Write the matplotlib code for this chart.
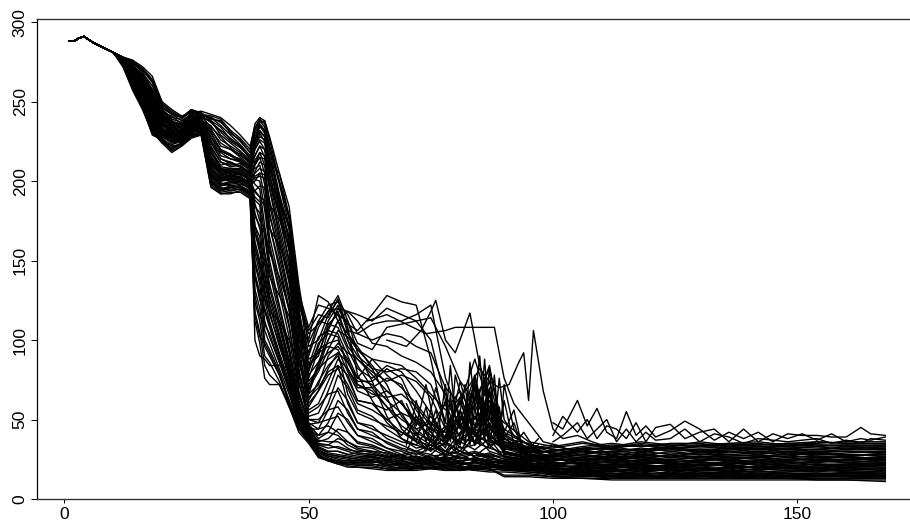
#!/usr/bin/env python3
import matplotlib
matplotlib.use('Agg')
import matplotlib.pyplot as plt

plt.rcParams['font.family'] = ['Liberation Sans', 'DejaVu Sans']

# all the curves run together up to x = 10
start_x = [1, 2, 3, 4, 5, 6, 8, 10]
start_y = [288, 288, 290, 291, 289, 287, 284, 281]

head_x = [12, 14, 16, 18, 20, 22, 24, 26, 28, 30, 32, 34, 36, 38, 39, 40]
mid_x = [41, 42, 44, 46, 48, 50, 52, 54, 56, 58, 60, 63, 66, 69, 72, 75, 78, 81, 84, 87, 90, 95]
tail_x = [100, 106, 112, 118, 124, 130, 136, 142, 148, 154, 160, 168]

head_vals = [
    [278, 276, 272, 266, 250, 245, 241, 243, 244, 242, 240, 235, 229, 222, 234, 238],
    [278, 275, 270, 263, 248, 243, 240, 245, 242, 241, 239, 232, 227, 220, 236, 240],
    [277, 275, 268, 260, 246, 242, 238, 242, 243, 239, 238, 230, 226, 218, 230, 236],
    [278, 274, 269, 257, 245, 240, 239, 244, 241, 240, 235, 229, 223, 216, 228, 235],
    [277, 273, 266, 256, 243, 241, 236, 241, 241, 237, 232, 227, 222, 214, 226, 232],
    [277, 272, 267, 253, 244, 238, 235, 240, 240, 238, 229, 224, 219, 213, 222, 230],
    [277, 273, 264, 252, 241, 237, 236, 241, 238, 235, 226, 222, 218, 212, 220, 225],
    [276, 271, 265, 250, 242, 236, 233, 239, 239, 233, 222, 220, 215, 210, 216, 222],
    [276, 270, 262, 251, 239, 234, 232, 238, 237, 231, 219, 216, 214, 209, 213, 218],
    [276, 271, 261, 248, 240, 235, 231, 236, 238, 228, 216, 214, 212, 208, 210, 215],
    [276, 269, 263, 246, 237, 233, 232, 238, 236, 222, 212, 210, 211, 207, 208, 210],
    [275, 270, 258, 247, 238, 231, 230, 235, 237, 216, 207, 208, 207, 206, 203, 205],
    [276, 267, 260, 244, 235, 232, 228, 237, 235, 212, 206, 207, 208, 205, 201, 200],
    [275, 268, 256, 245, 236, 229, 229, 233, 236, 210, 204, 205, 206, 203, 198, 195],
    [275, 266, 257, 242, 233, 230, 227, 235, 234, 208, 203, 206, 204, 202, 193, 190],
    [275, 267, 254, 243, 234, 227, 228, 232, 235, 206, 202, 204, 205, 201, 188, 185],
    [274, 264, 255, 240, 231, 228, 226, 234, 233, 205, 201, 203, 202, 200, 184, 180],
    [275, 265, 252, 241, 232, 226, 227, 231, 234, 203, 200, 201, 203, 198, 178, 172],
    [274, 262, 253, 238, 229, 227, 225, 233, 232, 202, 198, 200, 200, 197, 172, 165],
    [274, 263, 250, 239, 230, 224, 226, 230, 233, 201, 197, 198, 199, 196, 168, 158],
    [275, 268, 258, 246, 236, 230, 228, 236, 237, 214, 205, 203, 202, 199, 162, 150],
    [276, 270, 262, 250, 240, 234, 232, 239, 239, 220, 208, 205, 201, 198, 155, 142],
    [274, 261, 249, 236, 228, 225, 224, 229, 231, 200, 195, 196, 197, 194, 148, 135],
    [273, 260, 247, 235, 227, 222, 223, 228, 232, 199, 194, 195, 196, 192, 140, 128],
    [277, 271, 263, 251, 241, 236, 234, 240, 240, 226, 214, 211, 209, 204, 132, 120],
    [276, 268, 257, 245, 235, 231, 229, 235, 236, 218, 208, 207, 205, 201, 124, 112],
    [272, 258, 246, 233, 226, 220, 223, 228, 230, 198, 193, 194, 195, 191, 118, 105],
    [272, 257, 245, 230, 225, 219, 222, 227, 229, 197, 192, 193, 193, 189, 112, 98],
    [275, 266, 256, 243, 233, 228, 228, 235, 236, 224, 218, 214, 213, 209, 100, 90],
    [276, 269, 261, 249, 238, 233, 230, 238, 238, 232, 224, 220, 217, 211, 142, 130],
    [277, 272, 265, 254, 243, 238, 235, 241, 241, 237, 231, 225, 221, 215, 172, 160],
    [275, 264, 254, 240, 231, 226, 226, 233, 234, 207, 203, 201, 202, 198, 186, 175],
    [274, 260, 249, 234, 226, 223, 225, 231, 232, 204, 199, 197, 198, 196, 194, 190],
    [275, 265, 255, 242, 232, 229, 229, 235, 235, 209, 202, 200, 201, 197, 200, 205],
    [276, 268, 259, 247, 236, 232, 231, 237, 237, 213, 207, 204, 204, 202, 212, 215],
    [277, 272, 266, 255, 244, 237, 236, 242, 240, 224, 214, 212, 209, 206, 222, 228],
    [278, 275, 271, 264, 249, 244, 240, 245, 243, 238, 234, 226, 222, 214, 232, 237],
    [277, 270, 264, 252, 240, 235, 233, 238, 236, 218, 209, 208, 208, 204, 220, 226],
    [275, 266, 252, 239, 229, 226, 224, 231, 231, 204, 197, 199, 200, 198, 210, 218],
    [274, 261, 248, 232, 224, 221, 224, 229, 230, 201, 194, 196, 197, 193, 206, 212],
    [276, 269, 260, 248, 238, 232, 231, 237, 237, 221, 212, 209, 210, 205, 216, 222],
    [275, 264, 251, 237, 230, 227, 225, 233, 233, 210, 205, 203, 206, 202, 205, 208],
    [277, 273, 267, 258, 245, 239, 237, 243, 241, 234, 228, 221, 216, 212, 226, 234],
    [276, 267, 258, 244, 233, 230, 229, 234, 235, 215, 206, 206, 207, 203, 202, 203],
    [274, 262, 247, 233, 225, 222, 223, 230, 230, 200, 196, 194, 195, 192, 194, 197],
    [278, 276, 270, 262, 247, 242, 240, 244, 242, 240, 237, 231, 225, 218, 233, 239],
    [277, 271, 265, 253, 242, 237, 234, 240, 239, 230, 220, 217, 213, 208, 224, 231],
    [275, 265, 253, 239, 231, 228, 227, 232, 233, 207, 201, 203, 203, 199, 190, 187],
    [276, 268, 259, 246, 237, 231, 230, 236, 237, 219, 210, 212, 209, 206, 180, 170],
    [273, 262, 246, 231, 224, 218, 222, 228, 229, 196, 192, 192, 194, 190, 160, 145],
    [277, 270, 263, 251, 241, 235, 234, 239, 239, 228, 219, 216, 212, 208, 168, 155],
    [275, 264, 250, 236, 228, 225, 226, 232, 231, 203, 198, 199, 199, 195, 140, 125],
    [276, 266, 255, 241, 232, 229, 228, 234, 234, 211, 204, 202, 205, 200, 128, 115],
    [274, 259, 247, 229, 226, 220, 224, 229, 231, 199, 195, 197, 196, 193, 116, 102],
    [275, 263, 251, 235, 228, 224, 225, 231, 232, 205, 200, 202, 200, 197, 150, 138],
    [276, 267, 256, 242, 234, 228, 227, 234, 235, 212, 205, 206, 204, 201, 158, 148],
]

mid_vals = [
    [234, 222, 200, 178, 130, 88, 92, 108, 118, 100, 84, 70, 58, 46, 40, 52, 38, 64, 42, 34, 38, 30],
    [238, 228, 205, 184, 135, 96, 100, 116, 125, 108, 78, 62, 48, 40, 52, 36, 46, 34, 70, 40, 33, 29],
    [232, 220, 192, 170, 120, 84, 90, 110, 116, 112, 92, 74, 52, 38, 34, 46, 60, 38, 36, 58, 30, 27],
    [230, 215, 188, 162, 118, 78, 86, 100, 112, 104, 96, 82, 64, 44, 36, 30, 40, 55, 34, 42, 29, 26],
    [228, 210, 182, 158, 110, 70, 80, 94, 106, 102, 94, 84, 72, 52, 42, 36, 34, 48, 78, 38, 31, 32],
    [225, 205, 178, 150, 102, 66, 72, 90, 98, 92, 88, 78, 68, 60, 48, 40, 36, 30, 44, 66, 34, 27],
    [220, 200, 172, 146, 96, 60, 68, 82, 92, 86, 76, 72, 62, 54, 50, 44, 38, 52, 36, 32, 41, 31],
    [215, 195, 165, 138, 90, 56, 60, 74, 88, 82, 72, 68, 58, 50, 44, 48, 42, 35, 60, 36, 33, 28],
    [210, 185, 158, 130, 82, 52, 54, 68, 84, 78, 62, 60, 50, 42, 38, 32, 44, 62, 34, 48, 30, 25],
    [205, 180, 152, 125, 78, 50, 48, 60, 78, 70, 56, 52, 44, 38, 32, 34, 30, 28, 40, 30, 27, 25],
    [198, 172, 145, 118, 74, 48, 44, 56, 70, 62, 48, 46, 38, 34, 30, 28, 36, 30, 27, 34, 26, 24],
    [190, 165, 138, 110, 68, 47, 40, 48, 62, 56, 44, 42, 35, 31, 28, 32, 27, 33, 26, 28, 25, 24],
    [182, 158, 130, 102, 66, 46, 38, 42, 54, 50, 40, 38, 32, 30, 26, 24, 30, 25, 29, 26, 24, 23],
    [172, 150, 122, 96, 62, 45, 36, 38, 44, 42, 36, 34, 30, 27, 29, 25, 25, 28, 24, 27, 23, 22],
    [165, 142, 116, 92, 60, 44, 35, 34, 38, 36, 33, 32, 28, 26, 24, 28, 24, 26, 25, 23, 24, 22],
    [155, 135, 112, 88, 58, 43, 34, 32, 33, 31, 30, 30, 27, 25, 27, 24, 26, 23, 22, 24, 22, 21],
    [148, 128, 108, 84, 56, 42, 33, 30, 30, 28, 29, 28, 26, 28, 23, 26, 23, 24, 26, 22, 21, 21],
    [140, 122, 102, 80, 52, 41, 32, 29, 28, 27, 26, 27, 24, 23, 25, 22, 24, 22, 23, 21, 23, 20],
    [132, 118, 96, 78, 52, 40, 31, 28, 27, 26, 25, 26, 25, 22, 22, 24, 21, 23, 20, 23, 20, 20],
    [125, 112, 92, 74, 50, 39, 30, 27, 26, 25, 24, 25, 23, 24, 21, 22, 23, 21, 24, 20, 21, 19],
    [118, 108, 88, 70, 48, 38, 29, 27, 25, 24, 24, 24, 22, 21, 23, 21, 22, 20, 21, 22, 19, 19],
    [112, 102, 86, 68, 48, 38, 29, 26, 24, 24, 23, 23, 24, 20, 21, 23, 20, 21, 19, 20, 20, 18],
    [106, 98, 82, 66, 46, 37, 28, 25, 24, 23, 23, 24, 21, 22, 20, 20, 21, 19, 20, 19, 18, 18],
    [100, 94, 80, 62, 44, 36, 27, 25, 23, 23, 22, 22, 21, 19, 20, 21, 19, 20, 18, 21, 18, 17],
    [96, 90, 78, 60, 44, 36, 27, 24, 23, 22, 22, 22, 20, 20, 19, 20, 20, 18, 19, 18, 19, 17],
    [90, 86, 74, 58, 42, 35, 26, 24, 22, 22, 21, 21, 19, 19, 20, 19, 18, 19, 18, 17, 17, 16],
    [84, 78, 72, 60, 44, 39, 27, 24, 23, 21, 20, 20, 19, 18, 19, 20, 18, 18, 20, 19, 15, 15],
    [76, 72, 72, 58, 46, 40, 28, 24, 22, 20, 20, 19, 18, 18, 18, 19, 19, 18, 19, 19, 14, 14],
    [88, 84, 84, 82, 76, 72, 82, 100, 112, 118, 116, 112, 120, 116, 112, 100, 62, 46, 40, 36, 34, 32],
    [126, 118, 112, 100, 86, 66, 84, 106, 120, 110, 106, 116, 128, 124, 122, 88, 44, 36, 44, 40, 33, 30],
    [155, 140, 128, 115, 92, 82, 96, 112, 122, 106, 104, 110, 112, 112, 116, 122, 76, 52, 41, 46, 36, 33],
    [170, 155, 140, 120, 100, 90, 108, 118, 128, 112, 98, 94, 108, 110, 112, 114, 96, 74, 62, 82, 42, 34],
    [188, 170, 160, 142, 112, 98, 112, 122, 124, 116, 104, 100, 104, 102, 96, 92, 70, 60, 88, 58, 48, 36],
    [204, 185, 176, 160, 122, 104, 110, 118, 120, 118, 112, 98, 96, 90, 86, 80, 66, 44, 70, 50, 40, 30],
    [214, 198, 190, 170, 126, 106, 116, 114, 126, 104, 94, 88, 86, 84, 76, 66, 56, 68, 50, 74, 38, 35],
    [226, 212, 205, 178, 130, 108, 122, 120, 116, 100, 90, 82, 80, 82, 80, 72, 48, 40, 64, 44, 36, 28],
    [238, 226, 200, 176, 124, 100, 128, 124, 112, 96, 88, 80, 74, 78, 74, 64, 44, 60, 46, 68, 36, 30],
    [224, 208, 186, 165, 116, 92, 112, 110, 108, 94, 82, 76, 84, 80, 68, 54, 38, 50, 72, 46, 35, 27],
    [216, 200, 178, 150, 108, 84, 102, 106, 104, 90, 76, 88, 78, 70, 60, 48, 36, 46, 58, 84, 33, 29],
    [210, 196, 168, 142, 96, 76, 94, 98, 100, 86, 74, 74, 82, 76, 56, 42, 32, 74, 40, 52, 30, 26],
    [220, 204, 180, 156, 112, 80, 98, 104, 102, 82, 70, 70, 76, 72, 52, 44, 42, 34, 76, 38, 38, 28],
    [206, 188, 162, 136, 90, 68, 86, 92, 96, 88, 72, 66, 64, 66, 58, 46, 34, 56, 35, 62, 32, 27],
    [232, 216, 190, 164, 116, 84, 92, 96, 94, 80, 68, 64, 68, 60, 50, 38, 30, 42, 52, 32, 29, 25],
    [202, 178, 156, 128, 86, 62, 74, 84, 90, 76, 62, 60, 56, 62, 44, 36, 28, 38, 44, 56, 28, 26],
    [196, 172, 148, 120, 80, 58, 68, 78, 82, 72, 60, 56, 50, 54, 40, 34, 44, 32, 34, 66, 27, 24],
    [236, 222, 198, 172, 118, 74, 82, 88, 92, 66, 54, 50, 46, 42, 36, 34, 30, 36, 31, 38, 26, 25],
    [228, 212, 184, 158, 106, 64, 70, 80, 84, 60, 48, 44, 40, 36, 34, 31, 35, 28, 30, 27, 27, 23],
    [186, 160, 134, 108, 72, 54, 58, 66, 68, 54, 44, 40, 36, 32, 30, 34, 28, 30, 27, 29, 25, 23],
    [168, 146, 120, 94, 64, 50, 50, 56, 58, 48, 40, 36, 32, 28, 30, 26, 25, 27, 29, 25, 24, 22],
    [142, 126, 104, 82, 56, 44, 44, 46, 42, 36, 32, 30, 29, 26, 27, 25, 26, 24, 25, 23, 23, 21],
    [150, 132, 110, 86, 58, 47, 48, 50, 52, 42, 35, 33, 30, 27, 24, 27, 28, 26, 24, 25, 24, 22],
    [120, 110, 90, 72, 50, 40, 34, 34, 32, 30, 28, 27, 25, 24, 22, 25, 24, 22, 23, 24, 22, 20],
    [110, 104, 86, 70, 50, 39, 32, 30, 30, 28, 27, 26, 23, 22, 24, 22, 22, 23, 21, 22, 20, 19],
    [98, 92, 78, 62, 46, 37, 30, 28, 27, 26, 25, 24, 22, 21, 20, 23, 21, 20, 21, 20, 19, 18],
    [130, 116, 98, 76, 54, 42, 37, 36, 36, 32, 29, 28, 27, 25, 26, 23, 25, 22, 23, 22, 21, 20],
    [136, 122, 100, 78, 54, 43, 40, 42, 40, 34, 31, 29, 26, 24, 26, 24, 27, 23, 26, 24, 22, 21],
]

tail_vals = [
    [33, 36, 32, 35, 33, 36, 34, 35, 33, 36, 35, 35],
    [30, 33, 35, 33, 34, 33, 35, 34, 35, 34, 33, 34],
    [31, 31, 33, 34, 31, 34, 32, 33, 34, 33, 34, 33],
    [28, 32, 31, 31, 33, 32, 33, 32, 33, 32, 32, 33],
    [34, 29, 30, 32, 30, 31, 32, 31, 32, 33, 31, 32],
    [27, 30, 33, 30, 31, 30, 31, 32, 31, 31, 32, 31],
    [29, 28, 30, 29, 32, 31, 29, 30, 31, 30, 30, 30],
    [26, 31, 27, 30, 28, 29, 30, 29, 30, 29, 30, 29],
    [28, 27, 28, 28, 29, 28, 28, 29, 28, 29, 28, 28],
    [25, 28, 26, 27, 27, 28, 27, 27, 28, 28, 28, 27],
    [27, 25, 27, 26, 27, 26, 27, 28, 26, 27, 26, 26],
    [24, 26, 25, 26, 25, 26, 25, 26, 27, 26, 26, 25],
    [25, 24, 25, 24, 25, 24, 26, 25, 25, 25, 25, 24],
    [22, 23, 24, 24, 23, 25, 24, 24, 24, 24, 23, 24],
    [23, 22, 23, 22, 24, 23, 23, 24, 23, 23, 24, 23],
    [21, 23, 21, 23, 22, 22, 22, 23, 22, 22, 22, 22],
    [20, 21, 22, 21, 21, 22, 21, 22, 21, 22, 21, 21],
    [21, 20, 20, 21, 20, 21, 21, 20, 21, 20, 21, 20],
    [19, 19, 20, 20, 20, 19, 20, 20, 19, 20, 19, 19],
    [18, 20, 18, 19, 19, 19, 18, 19, 19, 18, 19, 18],
    [19, 18, 18, 18, 18, 18, 18, 17, 18, 18, 18, 17],
    [17, 17, 17, 18, 16, 17, 17, 17, 17, 17, 17, 16],
    [17, 16, 16, 16, 16, 16, 16, 16, 16, 16, 15, 15],
    [16, 15, 16, 15, 15, 15, 15, 15, 14, 15, 15, 14],
    [15, 15, 14, 15, 14, 14, 14, 14, 14, 14, 14, 14],
    [14, 14, 14, 14, 14, 13, 14, 13, 13, 13, 13, 13],
    [14, 13, 13, 13, 13, 13, 13, 13, 13, 12, 12, 12],
    [13, 13, 12, 12, 12, 12, 12, 12, 12, 12, 12, 11],
    [32, 35, 33, 36, 34, 34, 35, 36, 34, 35, 36, 36],
    [30, 32, 34, 33, 35, 35, 33, 34, 35, 36, 35, 35],
    [28, 31, 32, 34, 32, 33, 34, 33, 33, 34, 34, 34],
    [31, 28, 32, 30, 33, 30, 32, 31, 32, 31, 33, 32],
    [33, 30, 29, 31, 32, 29, 31, 30, 29, 30, 31, 31],
    [27, 26, 29, 27, 30, 28, 30, 28, 30, 28, 29, 30],
    [29, 27, 26, 29, 26, 30, 28, 27, 27, 29, 27, 29],
    [24, 26, 24, 28, 26, 27, 26, 26, 29, 27, 27, 28],
    [26, 24, 27, 25, 28, 25, 26, 25, 26, 24, 25, 27],
    [25, 23, 26, 25, 24, 27, 24, 27, 24, 26, 24, 26],
    [24, 25, 23, 27, 23, 24, 25, 23, 25, 25, 27, 25],
    [23, 22, 24, 23, 24, 23, 22, 24, 23, 23, 25, 25],
    [26, 21, 22, 24, 22, 23, 23, 22, 24, 21, 22, 23],
    [22, 23, 21, 22, 23, 21, 24, 21, 22, 24, 23, 22],
    [21, 20, 22, 20, 21, 24, 20, 23, 20, 22, 20, 22],
    [23, 22, 20, 21, 19, 22, 21, 20, 21, 19, 22, 21],
    [22, 19, 21, 19, 22, 20, 19, 21, 19, 21, 20, 20],
    [20, 21, 19, 22, 20, 20, 22, 19, 20, 20, 18, 19],
    [19, 20, 19, 18, 21, 18, 20, 18, 20, 19, 20, 18],
    [20, 18, 20, 19, 18, 19, 17, 19, 18, 17, 19, 18],
    [18, 19, 17, 20, 17, 18, 19, 16, 17, 19, 17, 17],
    [19, 17, 19, 17, 19, 17, 16, 18, 16, 16, 16, 16],
    [17, 18, 16, 17, 15, 16, 17, 15, 16, 15, 17, 16],
    [18, 16, 18, 15, 17, 15, 15, 16, 15, 16, 15, 15],
    [16, 17, 15, 16, 16, 14, 16, 14, 15, 14, 16, 15],
    [17, 14, 15, 14, 15, 16, 14, 15, 13, 15, 14, 14],
    [15, 16, 14, 13, 14, 15, 13, 14, 14, 13, 13, 13],
    [16, 15, 13, 14, 13, 14, 15, 13, 15, 14, 14, 13],
]

# single curves that stand out of the bundle
spike_x = [80, 83, 85, 87, 89, 91, 93, 94, 95, 96, 98, 100, 102, 105, 108, 111]
spike_y = [60, 72, 82, 74, 70, 72, 86, 92, 62, 106, 68, 44, 38, 40, 36, 33]
plateau_x = [62, 66, 70, 74, 78, 80, 84, 88, 90, 92, 95, 98, 102]
plateau_y = [112, 116, 110, 104, 106, 108, 108, 108, 76, 60, 48, 36, 33]
peak_x = [66, 70, 73, 75, 76, 78, 80, 83, 85, 87, 90, 94]
peak_y = [100, 96, 106, 118, 125, 100, 92, 117, 84, 66, 44, 36]
noise_x = [70, 72, 74, 76, 78, 79, 80, 82, 83, 84, 85, 86, 87, 88, 89, 90, 92, 94, 97]
noise_a = [40, 50, 42, 70, 48, 84, 52, 42, 86, 60, 90, 54, 82, 44, 76, 50, 40, 36, 30]
noise_b = [60, 46, 72, 44, 62, 40, 78, 56, 36, 74, 46, 88, 50, 78, 42, 62, 34, 42, 28]
noise_c = [34, 62, 36, 56, 34, 66, 38, 72, 48, 40, 66, 38, 70, 36, 58, 38, 48, 30, 34]
noise_d = [48, 36, 58, 32, 72, 36, 60, 34, 64, 44, 34, 76, 42, 60, 34, 72, 44, 33, 30]
noise_e = [30, 42, 30, 46, 38, 52, 30, 50, 34, 58, 38, 48, 34, 52, 38, 42, 56, 28, 38]
upper_x = [100, 102, 105, 107, 109, 111, 113, 115, 117, 119, 121, 124, 127, 130, 133,
           136, 139, 142, 145, 148, 151, 154, 157, 160, 163, 165, 168]
upper_a = [48, 44, 62, 46, 57, 42, 38, 55, 40, 46, 39, 43, 49, 44, 37, 42, 38, 42, 36,
           41, 40, 40, 39, 39, 45, 41, 40]
upper_b = [40, 52, 42, 50, 38, 46, 44, 38, 48, 36, 45, 47, 38, 42, 44, 36, 44, 36, 41,
           38, 41, 37, 41, 36, 38, 37, 39]
upper_c = [36, 40, 48, 38, 44, 50, 36, 44, 36, 42, 37, 38, 44, 36, 41, 39, 35, 38, 37,
           36, 37, 38, 35, 37, 35, 38, 37]

fig = plt.figure(figsize=(9.10, 5.23), dpi=100)
ax = fig.add_axes([36.5 / 910, 24 / 523, (910 - 36.5) / 910, 480 / 523])

for h, m, t in zip(head_vals, mid_vals, tail_vals):
    ax.plot(start_x + head_x + mid_x + tail_x, start_y + h + m + t,
            color='black', lw=1.0)

for x, y in [(spike_x, spike_y), (plateau_x, plateau_y), (peak_x, peak_y),
             (noise_x, noise_a), (noise_x, noise_b), (noise_x, noise_c),
             (noise_x, noise_d), (noise_x, noise_e),
             (upper_x, upper_a), (upper_x, upper_b), (upper_x, upper_c)]:
    ax.plot(x, y, color='black', lw=1.0)

ax.set_xlim(-5.69, 173.05)
ax.set_ylim(0, 302)
ax.spines['right'].set_visible(False)
for s in ['top', 'bottom']:
    ax.spines[s].set_linewidth(1.0)
    ax.spines[s].set_color('#333333')
ax.spines['left'].set_linewidth(0.9)

ax.set_xticks([0, 50, 100, 150])
ax.set_yticks([0, 50, 100, 150, 200, 250, 300])
ax.tick_params(axis='x', length=3, width=0.7, labelsize=12.5, pad=2.5)
ax.tick_params(axis='y', length=4.3, width=0.7, labelsize=12.5, pad=2)
for lab in ax.get_yticklabels():
    lab.set_rotation(90)
    lab.set_va('center')

fig.savefig('out.png', dpi=100)
